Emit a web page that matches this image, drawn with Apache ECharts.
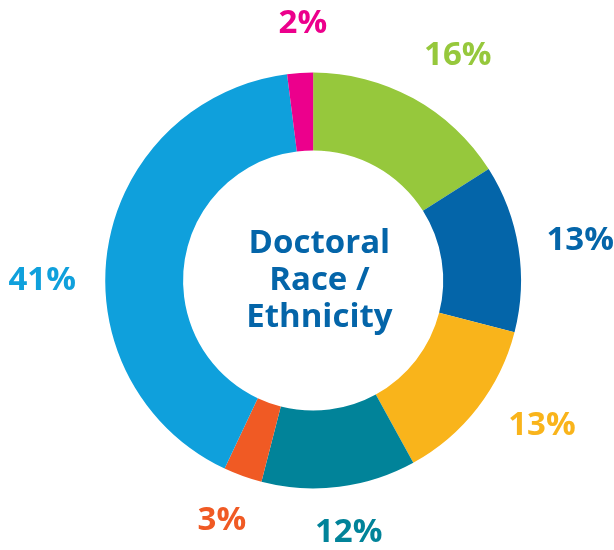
<!DOCTYPE html>
<html>
<head>
<meta charset="utf-8">
<script src="https://cdn.jsdelivr.net/npm/echarts@6/dist/echarts.min.js"></script>
<style>
html,body{margin:0;padding:0;background:#fff;}
#chart{width:614px;height:550px;}
</style>
</head>
<body>
<div id="chart"></div>
<script>
// Data
var categories = ['Group A', 'Group B', 'Group C', 'Group D', 'Group E', 'Group F', 'Group G'];
var values = [16, 13, 13, 12, 3, 41, 2];
var centerTitle = 'Doctoral\nRace /\nEthnicity';

// Styles
var colors = ['#96c83c', '#0465a9', '#f9b41b', '#018399', '#f05a24', '#0fa0dc', '#ec008c'];
// label anchor: [angle from top clockwise (deg), distance from centre (px)]
var labelAnchors = [[32.8, 267], [81.5, 270], [122.4, 271], [172, 255], [200.8, 257], [270, 271], [-2.3, 257]];

var chart = echarts.init(document.getElementById('chart'));
var CX = 0.51, CY = 0.51;
var option = {
  animation: false,
  title: {
    text: centerTitle,
    left: '51.2%',
    top: 220,
    textAlign: 'center',
    textStyle: {
      fontFamily: 'Open Sans',
      fontWeight: 700,
      fontSize: 33,
      lineHeight: 37,
      color: '#0465a9'
    }
  },
  series: [{
    type: 'pie',
    center: [(CX * 100) + '%', (CY * 100) + '%'],
    radius: ['47.3%', '75.6%'],
    startAngle: 90,
    clockwise: true,
    avoidLabelOverlap: false,
    data: categories.map(function (c, i) {
      return { name: c, value: values[i], itemStyle: { color: colors[i] }, label: { color: colors[i] } };
    }),
    label: {
      show: true,
      position: 'outside',
      formatter: function (p) { return values[p.dataIndex] + '%'; },
      fontFamily: 'Open Sans',
      fontWeight: 700,
      fontSize: 33
    },
    labelLine: { show: false },
    labelLayout: function (p) {
      var a = labelAnchors[p.dataIndex];
      var rad = a[0] * Math.PI / 180;
      var cx = chart.getWidth() * CX, cy = chart.getHeight() * CY;
      return {
        x: cx + a[1] * Math.sin(rad),
        y: cy - a[1] * Math.cos(rad),
        align: 'center',
        verticalAlign: 'middle'
      };
    }
  }]
};
chart.setOption(option);
</script>
</body>
</html>
